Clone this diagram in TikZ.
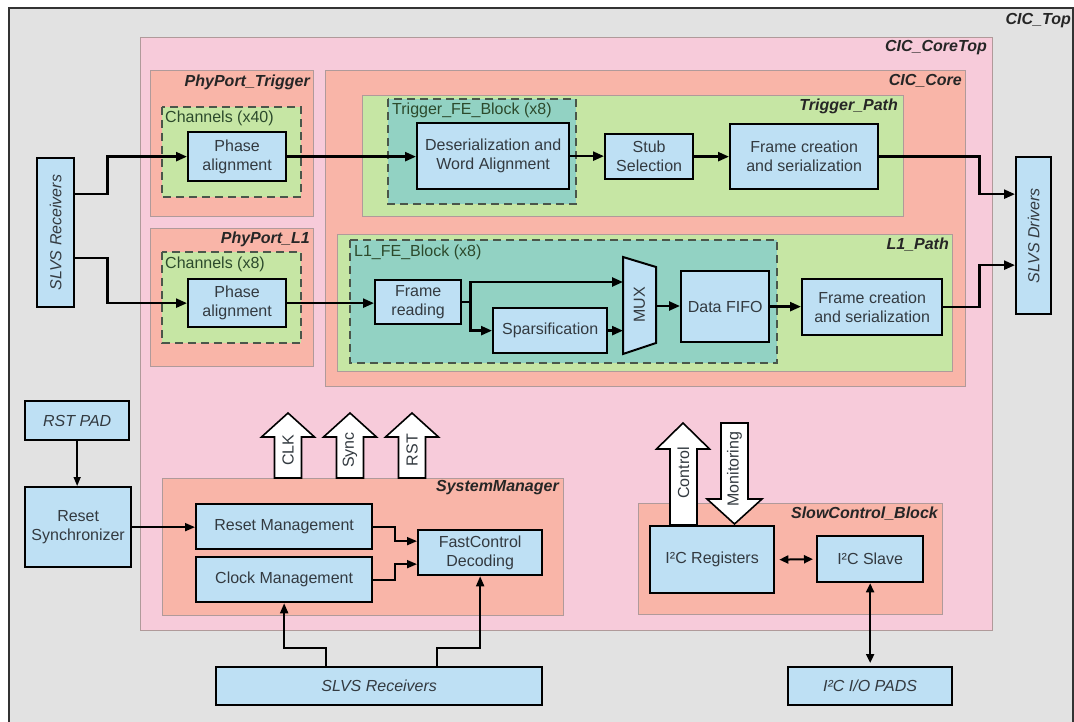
\documentclass[tikz,border=0pt]{standalone}
\usepackage{fontspec}
\usepackage{graphicx}
\setmainfont{Liberation Sans}
\usetikzlibrary{arrows.meta,calc}

\definecolor{cgray}{HTML}{E2E2E2}
\definecolor{cpink}{HTML}{F7CBDA}
\definecolor{csalmon}{HTML}{F9B5A8}
\definecolor{cgreen}{HTML}{C6E6A4}
\definecolor{cteal}{HTML}{92D2C3}
\definecolor{cblue}{HTML}{BEE0F4}
\definecolor{ctext}{HTML}{333A40}
\definecolor{cframe}{HTML}{B09A9A}
\definecolor{cdash}{HTML}{4A564A}
\definecolor{clabel}{HTML}{2C4A2C}

\begin{document}
\begin{tikzpicture}[x=1pt,y=-1pt,
  every node/.style={font=\fontsize{16}{19}\selectfont, text=ctext, inner sep=0pt},
  cont/.style={draw=cframe, line width=0.9pt},
  dcont/.style={draw=cdash, line width=1.5pt, dash pattern=on 8pt off 5pt},
  blk/.style={draw=black, line width=2.3pt, fill=cblue, align=center, anchor=north west},
  ttl/.style={font=\fontsize{16}{19}\selectfont\bfseries\itshape, text=black!85, anchor=east},
  sublbl/.style={anchor=west, text=clabel},
  conn/.style={draw=black, line width=2.4pt, -{Triangle[length=11pt,width=9pt]}},
  sconn/.style={draw=black, line width=1.9pt, -{Triangle[length=10pt,width=8pt]}},
  tconn/.style={draw=black, line width=1.5pt, -{Triangle[length=9pt,width=7pt]}},
  dconn/.style={draw=black, line width=2pt, {Triangle[length=9pt,width=8pt]}-{Triangle[length=9pt,width=8pt]}},
  warrow/.style={draw=black, line width=1.6pt, fill=white, line join=miter}
]
\useasboundingbox (0,0) rectangle (1074,722);
\clip (0,0) rectangle (1074,722);
\fill[white] (0,0) rectangle (1074,722);

% containers
\draw[draw=black!80, line width=1.5pt, fill=cgray] (9,8) rectangle (1073,740);
\draw[cont, fill=cpink] (140,37) rectangle (992,630);
\draw[cont, fill=csalmon] (150,70) rectangle (313,216);
\draw[cont, fill=csalmon] (150,228) rectangle (313,366);
\draw[cont, fill=csalmon] (325,70) rectangle (965,386);
\draw[cont, fill=cgreen] (362,95) rectangle (903,216);
\draw[cont, fill=cgreen] (337,234) rectangle (952,371);
\draw[dcont, fill=cgreen] (162,107) rectangle (301,197);
\draw[dcont, fill=cgreen] (162,252) rectangle (301,343);
\draw[dcont, fill=cteal] (388,99) rectangle (576,204);
\draw[dcont, fill=cteal] (350,240) rectangle (777,363);
\draw[cont, fill=csalmon] (162,478) rectangle (563,615);
\draw[cont, fill=csalmon] (638,503) rectangle (942,614);

% container titles
\node[ttl] (tTop) at (1071,21) {CIC\_Top};
\node[ttl] (tCoreTop) at (987,48) {CIC\_CoreTop};
\node[ttl] (tPPT) at (310,82) {PhyPort\_Trigger};
\node[ttl] (tCore) at (962,81) {CIC\_Core};
\node[ttl] (tTP) at (898,106) {Trigger\_Path};
\node[ttl] (tPPL) at (310,239) {PhyPort\_L1};
\node[ttl] (tLP) at (949,245) {L1\_Path};
\node[ttl] (tSM) at (559,488) {SystemManager};
\node[ttl] (tSC) at (938,514) {SlowControl\_Block};
\node[sublbl] (lCh40) at (165,118) {Channels (x40)};
\node[sublbl] (lTFE) at (392,110) {Trigger\_FE\_Block (x8)};
\node[sublbl] (lCh8) at (165,264) {Channels (x8)};
\node[sublbl] (lLFE) at (354,252) {L1\_FE\_Block (x8)};

% white signal arrows
\foreach \cx/\nm/\tx in {288/aclk/CLK, 350/async/Sync, 412/arst/RST} {
  \draw[warrow] (\cx-13.5,478) -- (\cx-13.5,437) -- (\cx-26.5,437) -- (\cx,413)
     -- (\cx+26.5,437) -- (\cx+13.5,437) -- (\cx+13.5,478) -- cycle;
  \node[rotate=90] (\nm) at (\cx,450) {\tx};
}
\draw[warrow] (670,525) -- (670,449) -- (656.5,449) -- (683,423) -- (709.5,449) -- (697,449) -- (697,525) -- cycle;
\node[rotate=90] (actl) at (683.5,473) {Control};
\draw[warrow] (721,423) -- (748,423) -- (748,499) -- (762,499) -- (734.5,524) -- (707,499) -- (721,499) -- cycle;
\node[rotate=90] (amon) at (734.5,469) {Monitoring};

% blocks
\node[blk, minimum width=37pt, minimum height=149pt] (slvsR) at (36,157) {\rotatebox{90}{\itshape SLVS Receivers}};
\node[blk, minimum width=35pt, minimum height=157pt] (slvsD) at (1015,156) {\rotatebox{90}{\itshape SLVS Drivers}};
\node[blk, minimum width=98pt, minimum height=49pt] (phT) at (187,131) {Phase\\alignment};
\node[blk, minimum width=98pt, minimum height=48pt] (phL) at (187,278) {Phase\\alignment};
\node[blk, minimum width=152pt, minimum height=66pt] (deser) at (416,122) {Deserialization and\\Word Alignment};
\node[blk, minimum width=88pt, minimum height=45pt] (stub) at (604,133) {Stub\\Selection};
\node[blk, minimum width=148pt, minimum height=65pt] (fcT) at (729,123) {Frame creation\\and serialization};
\node[blk, minimum width=86pt, minimum height=44pt] (frd) at (374,279) {Frame\\reading};
\node[blk, minimum width=114pt, minimum height=45pt] (spars) at (492,307) {Sparsification};
\node[blk, minimum width=88pt, minimum height=71pt] (fifo) at (680,270) {Data FIFO};
\node[blk, minimum width=140pt, minimum height=56pt] (fcL) at (801,278) {Frame creation\\and serialization};
\node[blk, minimum width=104pt, minimum height=39pt] (rstpad) at (24,400) {\itshape RST PAD};
\node[blk, minimum width=106pt, minimum height=80pt] (rstsync) at (24,486) {Reset\\Synchronizer};
\node[blk, minimum width=176pt, minimum height=45pt] (rstmgmt) at (195,503) {Reset Management};
\node[blk, minimum width=176pt, minimum height=45pt] (clkmgmt) at (195,556) {Clock Management};
\node[blk, minimum width=124pt, minimum height=45pt] (fcd) at (417,529) {FastControl\\Decoding};
\node[blk, minimum width=326pt, minimum height=38pt] (slvsB) at (215,666) {\itshape SLVS Receivers};
\node[blk, minimum width=124pt, minimum height=67pt] (i2creg) at (649,525) {I²C Registers};
\node[blk, minimum width=106pt, minimum height=46pt] (i2cslave) at (816,535) {I²C Slave};
\node[blk, minimum width=164pt, minimum height=38pt] (i2cpads) at (787,666) {\itshape I²C I/O PADS};

% MUX
\draw[draw=black, line width=2pt, fill=cblue] (623,257) -- (656,267) -- (656,343) -- (623,354) -- cycle;
\node[rotate=90] (mux) at (639.5,305) {MUX};
\coordinate (muxA) at (623,282);
\coordinate (muxB) at (623,329);
\coordinate (muxO) at (656,306);

% connectors: trigger path
\draw[conn] ([yshift=38.5pt]slvsR.east) -- ++(32,0) |- (phT.west);
\draw[conn] ([yshift=-25.5pt]slvsR.east) -- ++(32,0) |- (phL.west);
\draw[conn] (phT.east) -- (phT.east -| deser.west);
\draw[conn] (deser.east) -- (deser.east -| stub.west);
\draw[conn] (stub.east) -- (stub.east -| fcT.west);
\draw[conn] (fcT.east) -- ++(100,0) |- ([yshift=41.5pt]slvsD.west);
% L1 path
\draw[conn] (phL.east) -- (phL.east -| frd.west);
\draw[conn] (frd.east) -- ++(8,0) |- (muxA);
\draw[conn] (frd.east) -- ++(8,0) |- (spars.west);
\draw[conn] (spars.east) -- (spars.east -| muxB);
\draw[conn] (muxO) -- (muxO -| fifo.west);
\draw[conn] (fifo.east) -- (fifo.east -| fcL.west);
\draw[conn] (fcL.east) -- ++(36,0) |- ([yshift=-29.5pt]slvsD.west);

% system manager
\draw[tconn] (rstpad.south) -- (rstpad.south |- rstsync.north);
\draw[sconn] (rstsync.east) -- (rstsync.east -| rstmgmt.west);
\draw[sconn] (rstmgmt.east) -- ++(22,0) |- ([yshift=11.5pt]fcd.west);
\draw[sconn] (clkmgmt.east) -- ++(22,0) |- ([yshift=-11.5pt]fcd.west);
\draw[sconn] ([xshift=-53pt]slvsB.north) -- ++(0,-18) -| (clkmgmt.south);
\draw[sconn] ([xshift=58pt]slvsB.north) -- ++(0,-18) -| (fcd.south);

% slow control
\draw[dconn] ([xshift=4pt]i2creg.east) -- ([xshift=-3pt]i2cslave.west);
\draw[dconn] (i2cslave.south) -- ([yshift=3pt]i2cpads.north);
\end{tikzpicture}
\end{document}
